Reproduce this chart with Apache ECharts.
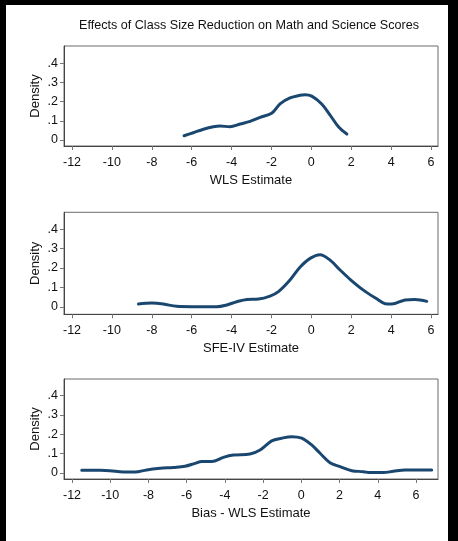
<!DOCTYPE html>
<html>
<head>
<meta charset="utf-8">
<script src="https://cdn.jsdelivr.net/npm/echarts@6/dist/echarts.min.js"></script>
<style>
html,body{margin:0;padding:0;background:#000;}
#c{width:458px;height:541px;}
</style>
</head>
<body>
<div id="c"></div>
<script>
// ---- data ----
const titleText = "Effects of Class Size Reduction on Math and Science Scores";
const xTicks = [-12, -10, -8, -6, -4, -2, 0, 2, 4, 6];
const yTicks = [0, 0.1, 0.2, 0.3, 0.4];
const xNames = ["WLS Estimate", "SFE-IV Estimate", "Bias - WLS Estimate"];

const wlsX = [-6.38,-5.92,-5.41,-4.91,-4.58,-4.08,-3.57,-3.07,-2.57,-1.99,-1.57,-1.07,-0.57,-0.32,0.02,0.52,0.94,1.36,1.78];
const wlsY = [0.022,0.038,0.056,0.069,0.073,0.069,0.083,0.097,0.118,0.139,0.188,0.219,0.233,0.236,0.229,0.188,0.130,0.069,0.031];

const sfeX = [-8.67,-8.0,-7.42,-6.75,-6.0,-5.3,-4.74,-4.24,-3.74,-3.23,-2.65,-2.07,-1.65,-1.07,-0.57,-0.06,0.44,0.94,1.44,1.94,2.61,3.28,3.70,4.03,4.70,5.20,5.79];
const sfeY = [0.014,0.019,0.014,0.002,0.0,0.0,0.0,0.009,0.026,0.038,0.040,0.055,0.078,0.138,0.204,0.250,0.269,0.241,0.190,0.142,0.086,0.041,0.016,0.014,0.035,0.038,0.028];

const biasX = [-11.49,-10.53,-10.01,-9.32,-8.70,-8.09,-7.39,-6.70,-6.09,-5.56,-5.21,-4.69,-4.08,-3.56,-2.69,-2.16,-1.55,-1.03,-0.50,0.02,0.54,0.98,1.50,2.02,2.64,3.25,3.60,4.29,4.81,5.43,5.98,6.82];
const biasY = [0.014,0.014,0.012,0.005,0.005,0.016,0.024,0.029,0.035,0.050,0.059,0.059,0.081,0.093,0.098,0.119,0.166,0.180,0.188,0.180,0.145,0.102,0.053,0.033,0.012,0.007,0.002,0.002,0.009,0.016,0.016,0.016];

const seriesX = [wlsX, sfeX, biasX];
const seriesY = [wlsY, sfeY, biasY];

// ---- layout ----
const panels = [
  {top:46, height:100, right:20, xmin:-12.401, xmax:6.351, ymin:-0.0313, ymax:0.490},
  {top:212.3, height:102, right:20, xmin:-12.401, xmax:6.351, ymin:-0.039, ymax:0.488},
  {top:379, height:100, right:20, xmin:-12.419, xmax:7.151, ymin:-0.031, ymax:0.486}
];
const FONT = "Liberation Sans, Arial, sans-serif";
const lineCol = "#1a476f";

const grids = [], xAxes = [], yAxes = [], series = [];
panels.forEach((p, i) => {
  grids.push({left:64, right:p.right, top:p.top, height:p.height, show:true,
    borderColor:"#6b6b6b", borderWidth:1, backgroundColor:"#fff", containLabel:false});
  xAxes.push({type:"value", gridIndex:i, min:p.xmin, max:p.xmax,
    name:xNames[i], nameLocation:"middle", nameGap:28, nameMoveOverlap:false,
    nameTextStyle:{fontFamily:FONT, fontSize:13, color:"#111"},
    axisLine:{show:true, onZero:false, lineStyle:{color:"#444", width:1}},
    axisTick:{show:true, length:4, lineStyle:{color:"#777"}, customValues:xTicks},
    axisLabel:{fontFamily:FONT, fontSize:12.5, color:"#111", margin:10, customValues:xTicks,
      formatter:v => String(v)},
    splitLine:{show:false}});
  yAxes.push({type:"value", gridIndex:i, min:p.ymin, max:p.ymax,
    name:"Density", nameLocation:"middle", nameGap:22, nameRotate:90, nameMoveOverlap:false,
    nameTextStyle:{fontFamily:FONT, fontSize:13, color:"#111"},
    axisLine:{show:true, onZero:false, lineStyle:{color:"#444", width:1}},
    axisTick:{show:true, length:4, lineStyle:{color:"#777"}, customValues:yTicks},
    axisLabel:{fontFamily:FONT, fontSize:12.5, color:"#111", margin:6, customValues:yTicks,
      formatter:v => { const r = Math.round(v*10)/10; return r === 0 ? "0" : ("." + Math.round(r*10)); }},
    splitLine:{show:false}});
  series.push({type:"line", xAxisIndex:i, yAxisIndex:i, showSymbol:false, symbol:"none",
    smooth:0.35, clip:false,
    lineStyle:{color:lineCol, width:3, cap:"round", join:"round"},
    data: seriesX[i].map((x, k) => [x, seriesY[i][k]])});
});

const chart = echarts.init(document.getElementById("c"), null, {renderer:"canvas"});
chart.setOption({
  backgroundColor:"#fff",
  animation:false,
  title:{text:titleText, left:79, top:19, padding:0,
    textStyle:{fontFamily:FONT, fontSize:12.6, fontWeight:"normal", color:"#111"}},
  graphic:[
    {type:"rect", left:0, top:0, shape:{width:6, height:541}, style:{fill:"#000"}, z:100},
    {type:"rect", left:0, top:0, shape:{width:458, height:5}, style:{fill:"#000"}, z:100},
    {type:"rect", right:0, top:0, shape:{width:10, height:541}, style:{fill:"#000"}, z:100}
  ],
  grid:grids, xAxis:xAxes, yAxis:yAxes, series:series
});
</script>
</body>
</html>
